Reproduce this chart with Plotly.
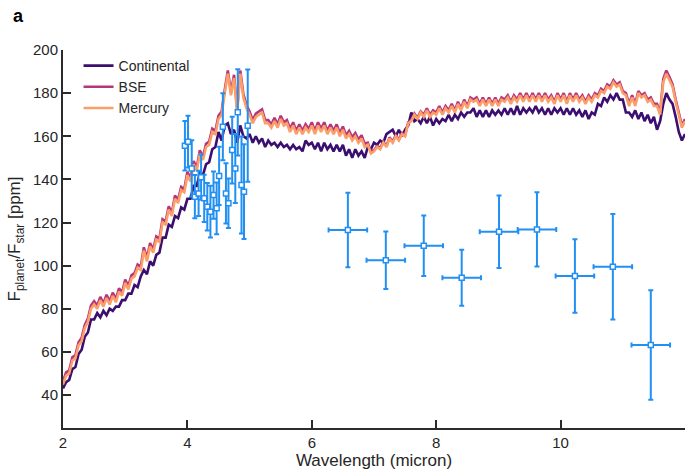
import numpy as np
import plotly.graph_objects as go

# Model emission spectra, sampled every 0.05 micron from 2 to 12 micron
wavelength = np.round(np.arange(2.0, 12.0001, 0.05), 2)

continental = [
    43, 46, 47, 52, 53, 59, 61, 67, 69, 75, 75, 78, 76, 79, 77, 80, 79, 81, 81, 84,
    84, 87, 87, 91, 90, 95, 98, 96, 102, 100, 105, 106, 113, 113, 119, 118, 123, 122, 127, 126,
    131, 131, 137, 137, 143, 142, 147, 148, 154, 155, 162, 158, 165, 166, 161, 163, 157, 165, 160, 159,
    161, 157, 160, 157, 159, 155, 158, 156, 157, 155, 157, 155, 156, 154, 156, 154, 155, 153, 158, 156,
    157, 154, 157, 153, 157, 154, 156, 153, 156, 153, 156, 151, 154, 150, 154, 151, 153, 150, 155, 154,
    157, 156, 158, 157, 161, 162, 163, 160, 163, 160, 163, 165, 171, 167, 168, 166, 169, 166, 169, 165,
    168, 166, 168, 167, 170, 167, 170, 168, 171, 169, 171, 171, 173, 169, 172, 169, 172, 169, 172, 170,
    172, 170, 173, 170, 173, 170, 174, 170, 173, 171, 173, 171, 174, 171, 173, 170, 173, 170, 173, 171,
    173, 170, 173, 170, 173, 170, 172, 169, 172, 168, 171, 170, 175, 174, 178, 176, 179, 177, 180, 177,
    177, 171, 171, 169, 172, 168, 171, 167, 170, 166, 169, 163, 167, 175, 180, 177, 175, 169, 162, 158,
    161,
]

bse = [
    46.5, 50.5, 51.5, 57.5, 58.5, 64.5, 66.5, 72.5, 75.5, 81.5, 83.5, 81.5, 85.5, 82.5, 86.5, 83.5, 87.5, 84.5, 89.5, 87.5,
    93.5, 90.5, 95.5, 96.5, 100.5, 99.5, 108.5, 103.5, 110.5, 107.5, 113.5, 112.5, 121.5, 120.5, 127.5, 124.5, 132.5, 130.5, 136.5, 135.5,
    143.5, 140.5, 148.5, 145.5, 153.5, 150.5, 156.5, 157.5, 163.5, 162.5, 169.5, 171.5, 181.5, 190.5, 180.5, 188.5, 172.5, 190.5, 179.5, 174.5,
    171.5, 167.5, 170.5, 171.5, 172.5, 167.5, 167.5, 165.5, 168.5, 165.5, 169.5, 166.5, 167.5, 163.5, 166.5, 162.5, 165.5, 162.5, 165.5, 163.5,
    166.5, 162.5, 166.5, 163.5, 166.5, 162.5, 165.5, 162.5, 165.5, 161.5, 164.5, 160.5, 162.5, 159.5, 161.5, 158.5, 160.5, 156.5, 157, 153,
    153.5, 155.5, 154.5, 157.5, 155.5, 159.5, 157.5, 160.5, 158.5, 161.5, 160.5, 166.5, 167.5, 170.5, 168.5, 171.5, 170, 173, 170, 172,
    171, 174, 171, 174, 172, 175, 172, 176, 173, 177, 174, 178, 177, 178, 175, 178, 175, 178, 175, 178,
    175, 178, 177, 179, 176, 179, 177, 180, 177, 180, 177, 180, 177, 180, 177, 180, 177, 179, 176, 180,
    177, 180, 176, 180, 177, 180, 177, 179, 176, 179, 177, 180, 179, 182, 181, 184, 183, 186, 184, 185,
    181, 180, 175, 179, 175, 181, 179, 180, 177, 178, 175, 175, 171, 186.5, 190.5, 187.5, 184, 177, 171, 165,
    168,
]

mercury = [
    45, 49, 50, 56, 57, 63, 65, 71, 74, 80, 82, 80, 84, 81, 85, 82, 86, 83, 88, 86,
    92, 89, 94, 95, 99, 98, 107, 102, 109, 106, 112, 111, 120, 119, 126, 123, 131, 129, 135, 134,
    142, 139, 147, 144, 152, 149, 155, 156, 162, 161, 168, 170, 180, 189, 179, 187, 171, 189, 178, 173,
    170, 166, 169, 170, 171, 166, 166, 164, 167, 164, 168, 165, 166, 162, 165, 161, 164, 161, 164, 162,
    165, 161, 165, 162, 165, 161, 164, 161, 164, 160, 163, 159, 161, 158, 160, 157, 159, 155, 156, 152,
    153, 155, 154, 157, 155, 159, 157, 160, 158, 161, 160, 166, 167, 170, 168, 171, 169, 172, 169, 171,
    170, 173, 170, 173, 171, 174, 171, 175, 172, 176, 173, 177, 176, 177, 174, 177, 174, 177, 174, 177,
    174, 177, 176, 178, 175, 178, 176, 179, 176, 179, 176, 179, 176, 179, 176, 179, 176, 178, 175, 179,
    176, 179, 175, 179, 176, 179, 176, 178, 175, 178, 176, 179, 178, 181, 180, 183, 182, 185, 183, 184,
    180, 179, 174, 178, 174, 180, 178, 179, 176, 177, 174, 174, 170, 185, 189, 186, 183, 176, 170, 164,
    167,
]

# NIRSpec-like observations (3.9 - 5 micron)
nrs_wave = [3.96, 4.01, 4.07, 4.12, 4.18, 4.22, 4.27, 4.32, 4.37, 4.42, 4.47,
            4.51, 4.57, 4.62, 4.66, 4.72, 4.77, 4.81, 4.87, 4.91, 4.97]
nrs_flux = [155.6, 157.5, 145.1, 132.0, 133.5, 141.0, 131.2, 127.3, 125.0, 132.7, 126.6,
            141.6, 164.4, 133.5, 128.9, 153.6, 145.1, 171.1, 137.4, 134.3, 164.9]
nrs_err = [11.5, 12.0, 13.0, 10.0, 10.5, 10.5, 11.0, 11.0, 12.0, 11.0, 12.0,
           13.5, 15.5, 14.0, 11.5, 15.5, 16.0, 20.0, 22.5, 22.0, 26.0]

# MIRI-like photometric bins (5.5 - 12 micron)
miri_wave = [6.58, 7.19, 7.80, 8.41, 9.01, 9.62, 10.23, 10.84, 11.45]
miri_flux = [116.5, 102.5, 109.2, 94.4, 115.7, 116.8, 95.2, 99.5, 63.2]
miri_err = [17.3, 13.3, 14.0, 13.0, 16.8, 17.2, 17.0, 24.5, 25.4]
miri_halfwidth = [0.31, 0.31, 0.31, 0.31, 0.31, 0.31, 0.31, 0.31, 0.31]

series = [
    ("Continental", continental, "#3b0f6f"),
    ("BSE", bse, "#b5367a"),
    ("Mercury", mercury, "#fc9e6a"),
]

blue = "#2290f2"
axis_col = "#2b2b2b"
font_family = "Liberation Sans, Arial, sans-serif"

fig = go.Figure()

for name, values, color in series:
    fig.add_trace(go.Scatter(
        x=wavelength, y=values, mode="lines", name=name,
        line=dict(color=color, width=2.6),
    ))

fig.add_trace(go.Scatter(
    x=nrs_wave, y=nrs_flux, mode="markers", showlegend=False,
    marker=dict(symbol="square", size=5, color="white", line=dict(color=blue, width=1.5)),
    error_y=dict(type="data", array=nrs_err, color=blue, thickness=2, width=2.5),
))

fig.add_trace(go.Scatter(
    x=miri_wave, y=miri_flux, mode="markers", showlegend=False,
    marker=dict(symbol="square", size=5, color="white", line=dict(color=blue, width=1.5)),
    error_y=dict(type="data", array=miri_err, color=blue, thickness=2, width=2.5),
    error_x=dict(type="data", array=miri_halfwidth, color=blue, thickness=2, width=2.5),
))

fig.update_layout(
    width=693, height=475,
    margin=dict(l=63, r=8, t=50, b=47),
    paper_bgcolor="white", plot_bgcolor="white",
    font=dict(family=font_family, size=15, color="#262626"),
    showlegend=True,
    legend=dict(
        x=0.025, y=1.0, xanchor="left", yanchor="top",
        bgcolor="rgba(0,0,0,0)", font=dict(size=14, color="#262626"),
        tracegroupgap=0, itemwidth=30,
    ),
    annotations=[dict(
        text="<b>a</b>", x=0, y=1, xref="paper", yref="paper",
        xanchor="left", yanchor="top", xshift=-52, yshift=46,
        showarrow=False, font=dict(size=18, color="black"),
    )],
)

fig.update_xaxes(
    range=[2, 12], tick0=2, dtick=2,
    showline=True, linecolor=axis_col, linewidth=2,
    ticks="inside", ticklen=8, tickwidth=1.5, tickcolor=axis_col,
    showgrid=False, zeroline=False, mirror=False,
    title=dict(text="Wavelength (micron)", standoff=3, font=dict(size=17)),
    tickfont=dict(size=15),
)

fig.update_yaxes(
    range=[24.7, 200], tick0=0, dtick=20,
    showline=True, linecolor=axis_col, linewidth=2,
    ticks="inside", ticklen=8, tickwidth=1.5, tickcolor=axis_col,
    showgrid=False, zeroline=False, mirror=False,
    title=dict(text="F<sub>planet</sub>/F<sub>star</sub> [ppm]", standoff=8, font=dict(size=17)),
    tickfont=dict(size=15),
)

fig.write_html("out.html")
